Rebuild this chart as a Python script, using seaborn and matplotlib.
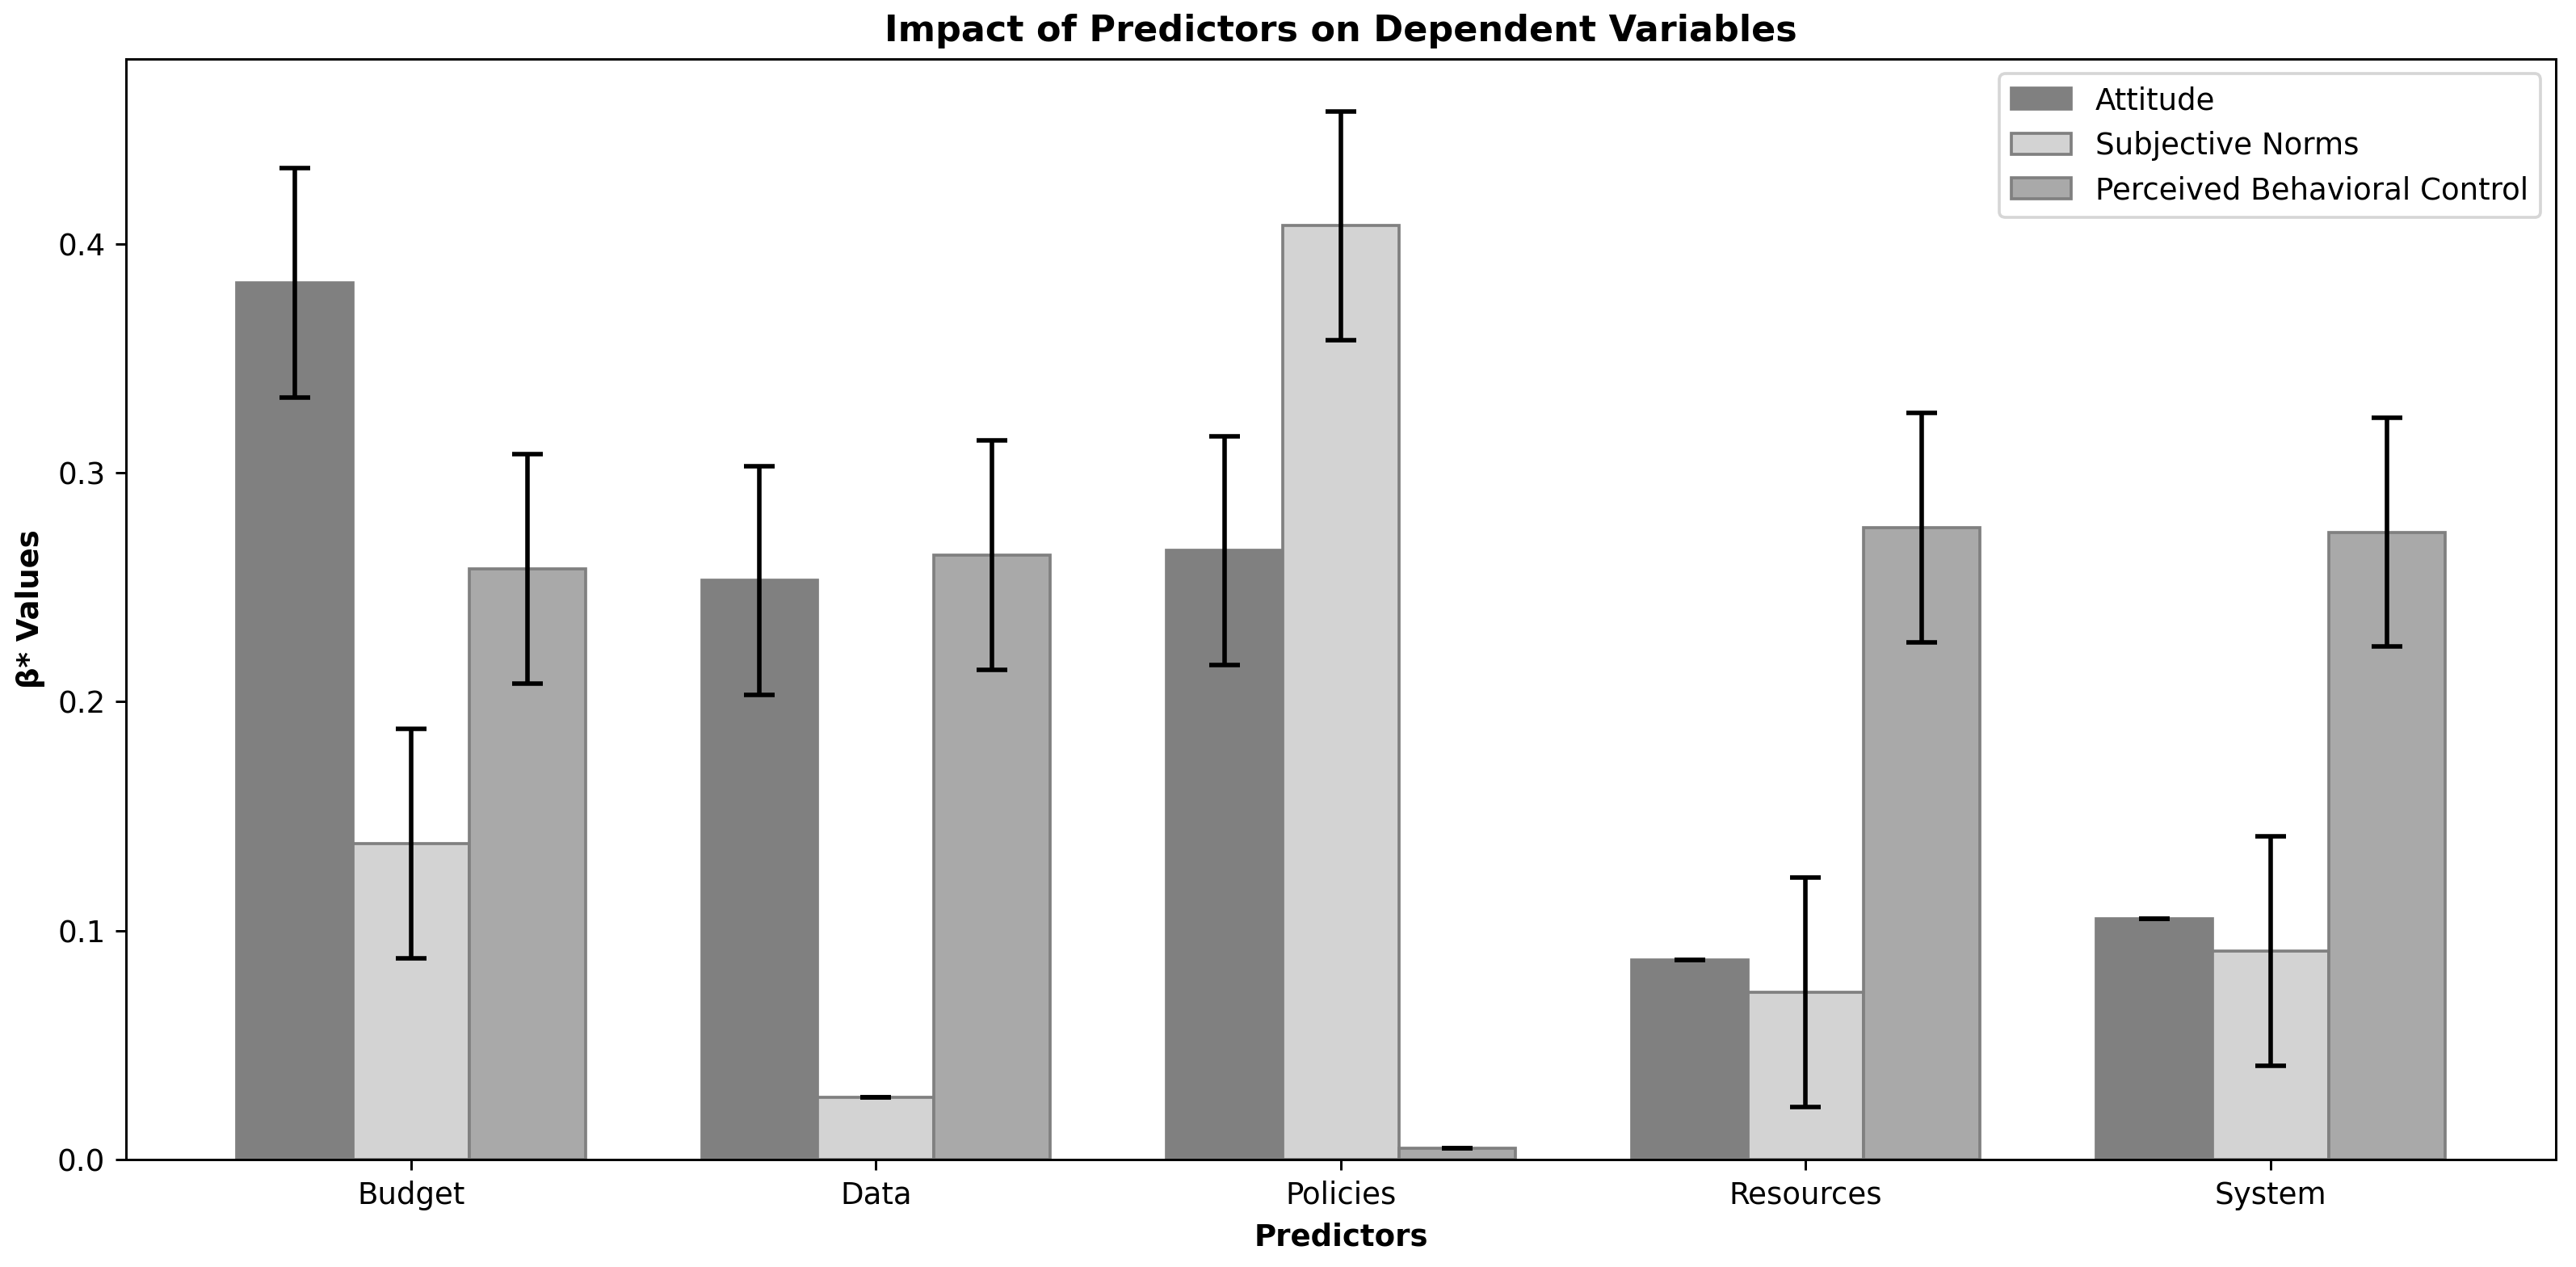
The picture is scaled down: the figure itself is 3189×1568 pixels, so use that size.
import matplotlib
matplotlib.use('Agg')
import matplotlib.pyplot as plt
import seaborn as sns
import pandas as pd
import numpy as np

# Data
predictors = ['Budget', 'Data', 'Policies', 'Resources', 'System']
series = ['Attitude', 'Subjective Norms', 'Perceived Behavioral Control']
attitude = [0.383, 0.253, 0.266, 0.087, 0.105]
subjective_norms = [0.138, 0.027, 0.408, 0.073, 0.091]
pbc = [0.258, 0.264, 0.005, 0.276, 0.274]
attitude_err = [0.05, 0.05, 0.05, 0.0, 0.0]
subjective_norms_err = [0.05, 0.0, 0.05, 0.05, 0.05]
pbc_err = [0.05, 0.05, 0.0, 0.05, 0.05]

colors = ['gray', 'lightgray', 'darkgray']

df = pd.DataFrame({
    'Predictor': predictors * 3,
    'Variable': [s for s in series for _ in predictors],
    'Beta': attitude + subjective_norms + pbc,
    'Err': attitude_err + subjective_norms_err + pbc_err,
})

fig, ax = plt.subplots(figsize=(11.944, 5.873), dpi=267)
fig.subplots_adjust(left=0.049, right=0.992, top=0.9535, bottom=0.085)

sns.barplot(data=df, x='Predictor', y='Beta', hue='Variable', order=predictors,
            hue_order=series, palette=colors, width=0.75, edgecolor='gray',
            linewidth=1, saturation=1, errorbar=None, ax=ax)

# error bars on top of each bar, using the bar positions seaborn made
for cont, s in zip(ax.containers, series):
    sub = df[df['Variable'] == s].set_index('Predictor').loc[predictors]
    xs = [b.get_x() + b.get_width() / 2 for b in cont]
    hs = [b.get_height() for b in cont]
    ax.errorbar(xs, hs, yerr=sub['Err'].values, fmt='none', ecolor='black',
                elinewidth=1.5, capsize=5, capthick=1.5)

ax.set_title('Impact of Predictors on Dependent Variables', fontweight='bold', fontsize=12)
ax.set_xlabel('Predictors', fontweight='bold')
ax.set_ylabel('β* Values', fontweight='bold')
ax.legend(title=None, loc='upper right')

fig.savefig('out.png', dpi=267)
